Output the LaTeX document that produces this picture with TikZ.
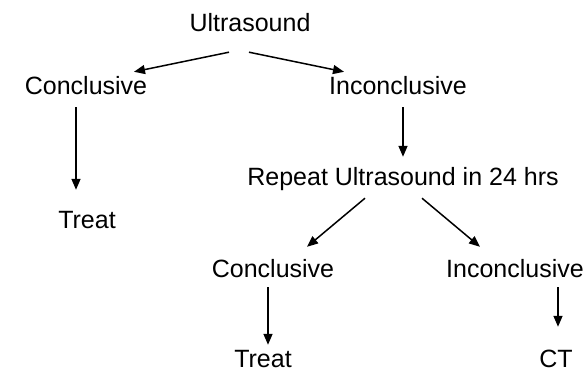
\documentclass[tikz,border=0pt]{standalone}
\usepackage{fontspec}
\setmainfont{Liberation Sans}
\usetikzlibrary{arrows.meta,positioning}

\begin{document}
\begin{tikzpicture}[
  x=1pt, y=1pt, on grid,
  font=\fontsize{25}{30}\selectfont,
  lbl/.style={inner sep=0pt, text height=18pt, text depth=0pt},
  arr/.style={-{Triangle[length=11pt,width=9pt]}, line width=1.5pt, black},
]
\useasboundingbox (0,0) rectangle (583,-371);
\node[lbl] (us) at (250,-23) {Ultrasound};
\node[lbl, below left=63pt and 164pt of us] (conc) {Conclusive};
\node[lbl, below right=63pt and 148pt of us] (inconc) {Inconclusive};
\node[lbl, below=134pt of conc, xshift=1pt] (treat) {Treat};
\node[lbl, below=91pt of inconc, xshift=5pt] (repeat) {Repeat Ultrasound in 24 hrs};
\node[lbl, below left=91pt and 130pt of repeat] (conc2) {Conclusive};
\node[lbl, below right=91pt and 112pt of repeat] (inconc2) {Inconclusive};
\node[lbl, below=90pt of conc2, xshift=-10pt] (treat2) {Treat};
\node[lbl, below=90pt of inconc2, xshift=41pt] (ct) {CT};
% first ultrasound
\draw[arr] ([xshift=-21pt,yshift=-20pt]us.south) -- ([xshift=48pt,yshift=5pt]conc.north);
\draw[arr] ([xshift=-1pt,yshift=-20pt]us.south) -- ([xshift=-54pt,yshift=5pt]inconc.north);
\draw[arr] ([xshift=-10pt,yshift=-12pt]conc.south) -- ([xshift=-11pt,yshift=21pt]treat.north);
\draw[arr] ([xshift=5pt,yshift=-12pt]inconc.south) -- ([yshift=11pt]repeat.north);
% repeat after 24 hrs
\draw[arr] ([xshift=-38pt,yshift=-12pt]repeat.south) -- ([xshift=34pt,yshift=12pt]conc2.north);
\draw[arr] ([xshift=19pt,yshift=-12pt]repeat.south) -- ([xshift=-35pt,yshift=12pt]inconc2.north);
\draw[arr] ([xshift=-5pt,yshift=-10pt]conc2.south) -- ([xshift=5pt,yshift=4pt]treat2.north);
\draw[arr] ([xshift=43pt,yshift=-10pt]inconc2.south) -- ([xshift=2pt,yshift=22pt]ct.north);
\end{tikzpicture}
\end{document}
